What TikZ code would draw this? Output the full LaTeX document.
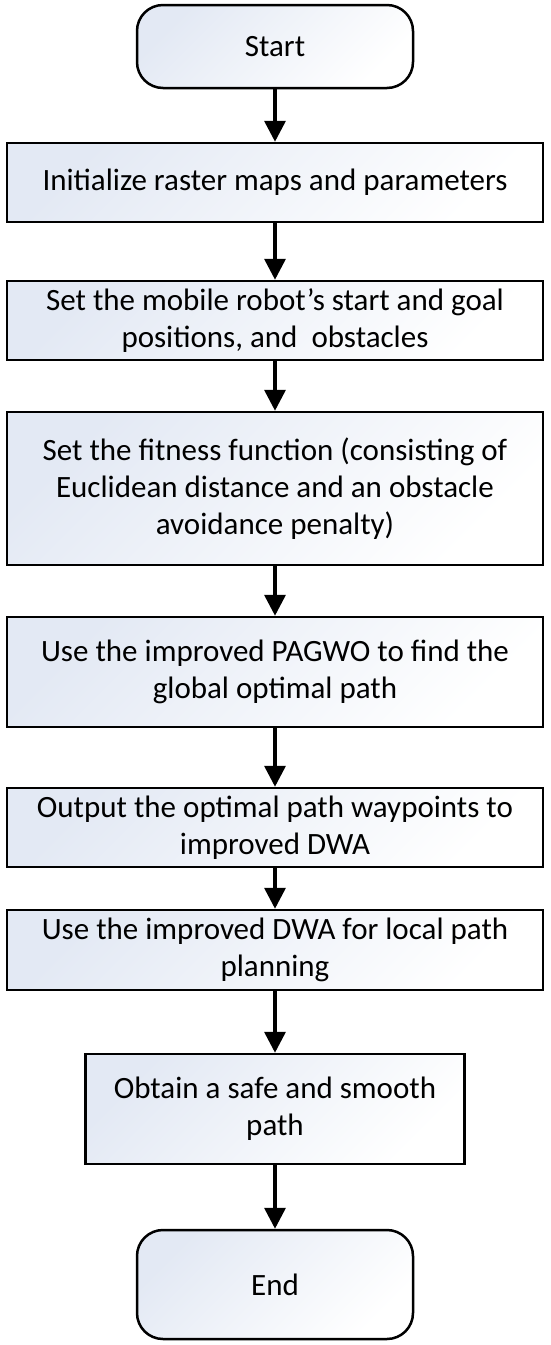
\documentclass[tikz,border=0pt]{standalone}
\usepackage{fontspec}
\setmainfont{Carlito}
\usepackage{tikz}
\usetikzlibrary{arrows.meta}
\definecolor{boxtint}{HTML}{E3E9F4}

\begin{document}
\begin{tikzpicture}[x=1pt, y=-1pt, >={Triangle[width=21pt, length=21pt]},
  font=\fontsize{31}{37}\selectfont,
  stepbox/.style={draw, line width=2.5pt, top color=boxtint, bottom color=white,
    shading angle=45, align=center, inner sep=0pt, minimum width=536pt},
  termbox/.style={stepbox, rounded corners=26pt, minimum width=276pt},
  flow/.style={->, line width=3.5pt}]
  \useasboundingbox (0,0) rectangle (550,1345);

  % Start
  \node[termbox, minimum height=83pt] (start) at (275,46.5) {Start};

  % Kroky
  \node[stepbox, minimum height=79pt] (init) at (275,182.5) {Initialize raster maps and parameters};
  \node[stepbox, minimum height=79pt] (setpos) at (275,320.5) {Set the mobile robot’s start and goal\\positions, and\ \ obstacles};
  \node[stepbox, minimum height=153pt] (fitness) at (275,488.5) {Set the fitness function (consisting of\\Euclidean distance and an obstacle\\avoidance penalty)};
  \node[stepbox, minimum height=110pt] (pagwo) at (275,672) {Use the improved PAGWO to find the\\global optimal path};
  \node[stepbox, minimum height=79pt] (output) at (275,827.5) {Output the optimal path waypoints to\\improved DWA};
  \node[stepbox, minimum height=80pt] (dwa) at (275,950) {Use the improved DWA for local path\\planning};
  \node[stepbox, minimum height=110pt, minimum width=379pt] (obtain) at (275,1109) {Obtain a safe and smooth\\path};

  % End
  \node[termbox, minimum height=109pt] (end) at (275,1284.5) {End};

  % Šipky
  \draw[flow] (start) -- (init);
  \draw[flow] (init) -- (setpos);
  \draw[flow] (setpos) -- (fitness);
  \draw[flow] (fitness) -- (pagwo);
  \draw[flow] (pagwo) -- (output);
  \draw[flow] (output) -- (dwa);
  \draw[flow] (dwa) -- (obtain);
  \draw[flow] (obtain) -- (end);
\end{tikzpicture}
\end{document}
